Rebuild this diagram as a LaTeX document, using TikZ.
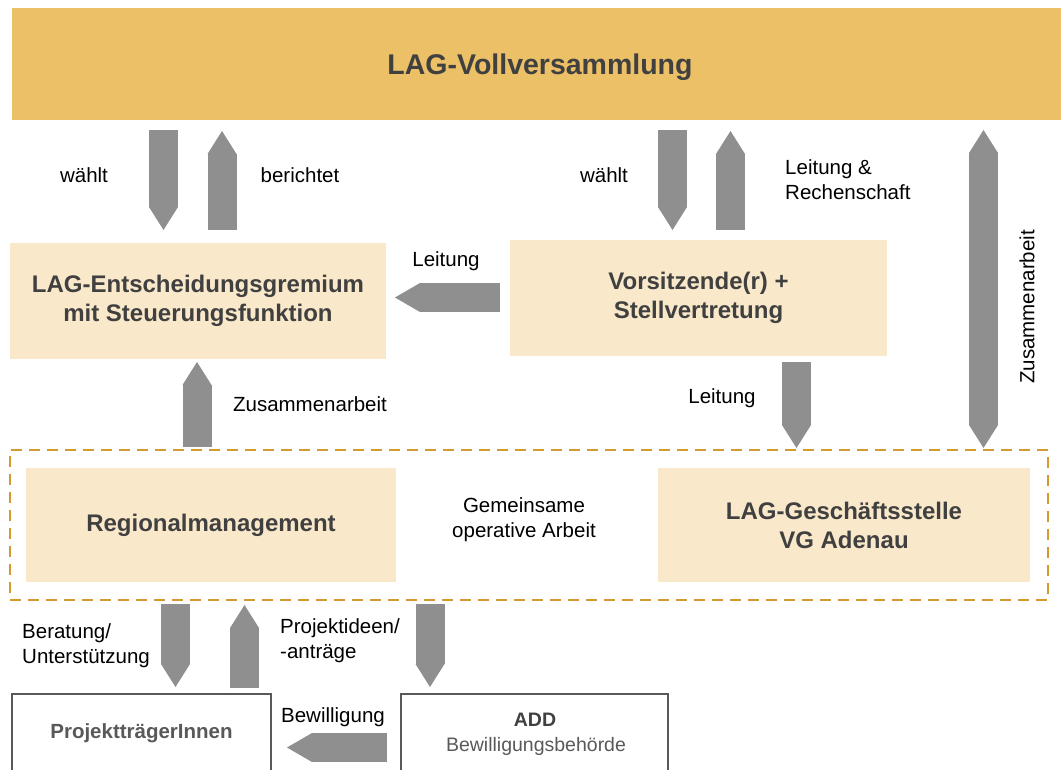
\documentclass[tikz,border=0pt]{standalone}
\usepackage{fontspec}
\setmainfont{Liberation Sans}
\usetikzlibrary{arrows.meta}
\definecolor{barcol}{HTML}{EBC066}
\definecolor{boxcol}{HTML}{F9E8CA}
\definecolor{arrcol}{HTML}{8F8F8F}
\definecolor{dashcol}{HTML}{D39B2E}
\definecolor{txtdark}{HTML}{404040}
\definecolor{txtgray}{HTML}{595959}
\tikzset{
  lbox/.style={fill=boxcol, draw=none, align=center, text=txtdark,
    font=\fontsize{24}{29}\selectfont\bfseries, inner sep=0pt},
  wbox/.style={fill=white, draw=txtgray, line width=1.5pt, inner sep=0pt},
  lbl/.style={font=\fontsize{20.5}{25}\selectfont, text=black, inner sep=0pt},
  barrowv/.style={draw=arrcol, line width=29pt,
    -{Triangle[length=23pt,width=29pt,line width=0pt]}},
  barrowvv/.style={draw=arrcol, line width=29pt,
    {Triangle[length=23pt,width=29pt,line width=0pt]}-{Triangle[length=23pt,width=29pt,line width=0pt]}},
  barrowh/.style={draw=arrcol, line width=29pt,
    -{Triangle[length=25pt,width=29pt,line width=0pt]}},
}
\begin{document}
\begin{tikzpicture}[x=1pt,y=-1pt]
\clip (0,0) rectangle (1061,769);
\fill[white] (0,0) rectangle (1061,769);

% top bar
\node[fill=barcol, minimum width=1049pt, minimum height=112pt, inner sep=0pt] (lvv) at (536.5,64) {};
\node[text=txtdark, font=\fontsize{28.5}{32}\selectfont\bfseries, inner sep=0pt] (lvvt) at (540,67) {LAG-Vollversammlung};

% boxes
\node[lbox, minimum width=376pt, minimum height=116pt] (eg) at (198,301)
  {LAG-Entscheidungsgremium\\mit Steuerungsfunktion};
\node[lbox, minimum width=377pt, minimum height=116pt] (vs) at (698.5,298)
  {Vorsitzende(r) +\\Stellvertretung};
\node[draw=dashcol, line width=2.5pt, dash pattern=on 11pt off 7pt,
  minimum width=1038pt, minimum height=150pt, inner sep=0pt] (grp) at (529,525) {};
\node[lbox, minimum width=370pt, minimum height=114pt] (rm) at (211,525)
  {Regionalmanagement};
\node[lbox, minimum width=372pt, minimum height=114pt] (gs) at (844,525)
  {LAG-Geschäftsstelle\\VG Adenau};
\node[lbl, align=center] (ga) at (524,520) {Gemeinsame\\operative Arbeit};

% bottom boxes
\node[wbox, minimum width=259pt, minimum height=100pt] (pt) at (141.5,744) {};
\node[font=\fontsize{20.5}{24}\selectfont\bfseries, text=txtgray] (ptt) at (141.5,733) {ProjektträgerInnen};
\node[wbox, minimum width=267pt, minimum height=100pt] (add) at (534.5,744) {};
\node[font=\fontsize{19.5}{24}\selectfont\bfseries, text=txtdark] (addt) at (535,720) {ADD};
\node[font=\fontsize{19.5}{24}\selectfont, text=txtgray] (addb) at (536,746) {Bewilligungsbehörde};

% arrow coordinates
\coordinate (a1s) at (163.5,130); \coordinate (a1e) at (163.5,230);
\coordinate (a2s) at (222,230);   \coordinate (a2e) at (222,131);
\coordinate (a3s) at (672.5,130); \coordinate (a3e) at (672.5,230);
\coordinate (a4s) at (730.5,230); \coordinate (a4e) at (730.5,131);
\coordinate (a5s) at (983.5,130); \coordinate (a5e) at (983.5,448);
\coordinate (a6s) at (500,297.5); \coordinate (a6e) at (395,297.5);
\coordinate (a7s) at (197,447);   \coordinate (a7e) at (197,362);
\coordinate (a8s) at (796.5,362); \coordinate (a8e) at (796.5,448);
\coordinate (a9s) at (175.5,604); \coordinate (a9e) at (175.5,687);
\coordinate (a10s) at (244.5,688); \coordinate (a10e) at (244.5,605);
\coordinate (a11s) at (430,604);  \coordinate (a11e) at (430,687);
\coordinate (a12s) at (387,747.5); \coordinate (a12e) at (287,747.5);

\draw[barrowv] (a1s) -- (a1e);
\draw[barrowv] (a2s) -- (a2e);
\draw[barrowv] (a3s) -- (a3e);
\draw[barrowv] (a4s) -- (a4e);
\draw[barrowvv] (a5s) -- (a5e);
\draw[barrowh] (a6s) -- (a6e);
\draw[barrowv] (a7s) -- (a7e);
\draw[barrowv] (a8s) -- (a8e);
\draw[barrowv] (a9s) -- (a9e);
\draw[barrowv] (a10s) -- (a10e);
\draw[barrowv] (a11s) -- (a11e);
\draw[barrowh] (a12s) -- (a12e);

% labels
\node[lbl] (l1) at (84,175) {wählt};
\node[lbl] (l2) at (300,175) {berichtet};
\node[lbl] (l3) at (604,175) {wählt};
\node[lbl, align=left, anchor=west] (l4) at (785,179.5) {Leitung \&\\Rechenschaft};
\node[lbl, rotate=90] (l5) at (1027,307) {Zusammenarbeit};
\node[lbl] (l6) at (446,261) {Leitung};
\node[lbl] (l7) at (310,404) {Zusammenarbeit};
\node[lbl] (l8) at (722,398) {Leitung};
\node[lbl, align=left, anchor=west] (l9) at (22,646) {Beratung/\\Unterstützung};
\node[lbl, align=left, anchor=west] (l10) at (280,641) {Projektideen/\\-anträge};
\node[lbl] (l11) at (333,717) {Bewilligung};
\end{tikzpicture}
\end{document}
